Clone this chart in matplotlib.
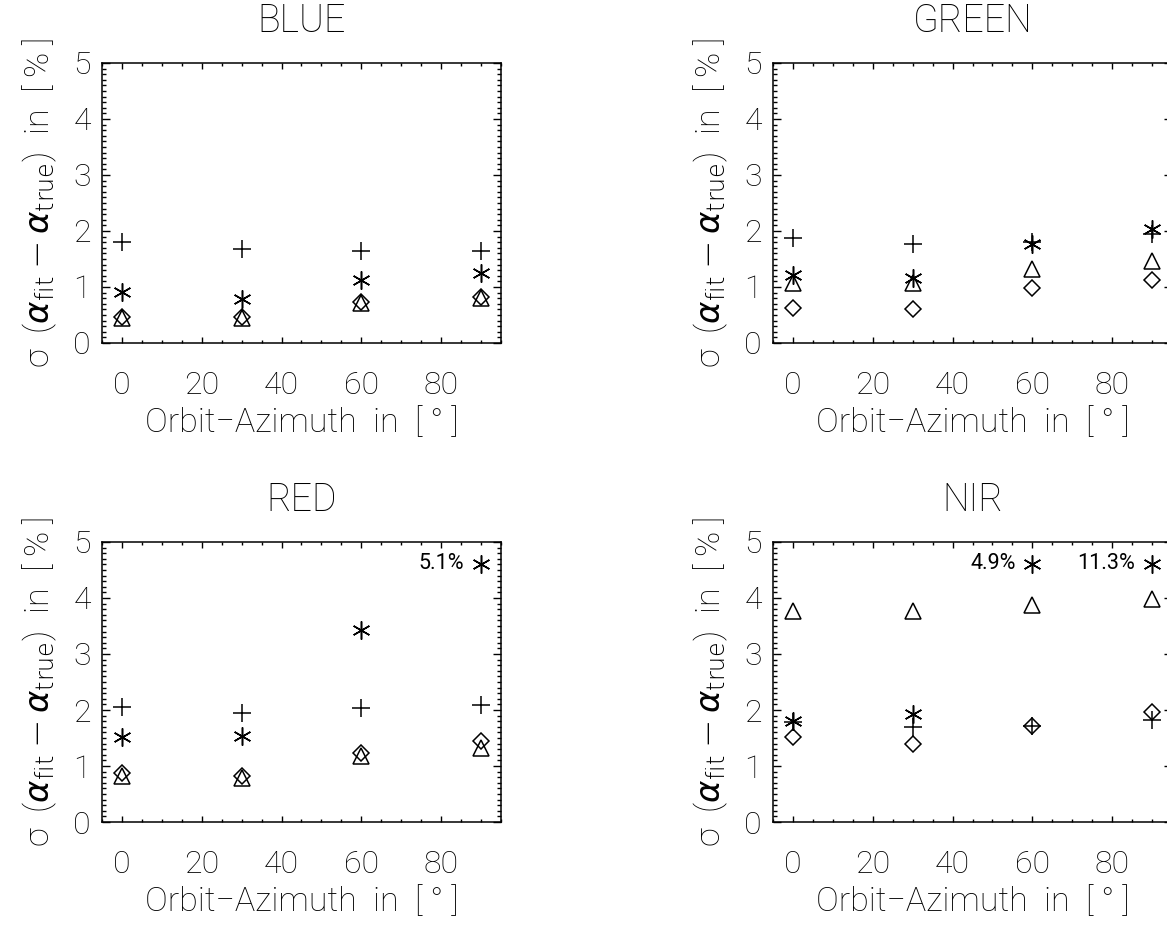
import matplotlib
matplotlib.use("Agg")
import matplotlib.pyplot as plt
from matplotlib.ticker import MultipleLocator

# orbit azimuth in degrees
azimuth = [0, 30, 60, 90]

# sigma(alpha_fit - alpha_true) in %, one list per marker type
blue_plus = [1.80, 1.68, 1.64, 1.65]
blue_star = [0.91, 0.79, 1.12, 1.25]
blue_tri = [0.44, 0.44, 0.72, 0.80]
blue_dia = [0.46, 0.47, 0.74, 0.82]

green_plus = [1.88, 1.77, 1.80, 1.95]
green_star = [1.22, 1.16, 1.76, 2.04]
green_tri = [1.08, 1.07, 1.33, 1.47]
green_dia = [0.63, 0.61, 0.99, 1.13]

red_plus = [2.06, 1.94, 2.03, 2.09]
red_star = [1.51, 1.54, 3.43, 5.1]
red_tri = [0.83, 0.79, 1.17, 1.33]
red_dia = [0.88, 0.82, 1.23, 1.45]

nir_plus = [1.79, 1.69, 1.71, 1.83]
nir_star = [1.80, 1.93, 4.9, 11.3]
nir_tri = [3.76, 3.77, 3.88, 3.98]
nir_dia = [1.51, 1.40, 1.71, 1.97]

panels = ["BLUE", "GREEN", "RED", "NIR"]
panel_data = {
    "BLUE": (blue_plus, blue_star, blue_tri, blue_dia),
    "GREEN": (green_plus, green_star, green_tri, green_dia),
    "RED": (red_plus, red_star, red_tri, red_dia),
    "NIR": (nir_plus, nir_star, nir_tri, nir_dia),
}

YMAX = 5.0
OFFSCALE_LIMIT = 4.6   # values above this are written as text
OFFSCALE_Y = 4.61

plt.rcParams["font.family"] = ["Roboto", "DejaVu Sans"]
plt.rcParams["font.weight"] = "light"
plt.rcParams["axes.titleweight"] = "light"
plt.rcParams["axes.labelweight"] = "light"
plt.rcParams["mathtext.fontset"] = "dejavusans"

fig = plt.figure(figsize=(11.67, 9.26), dpi=100)

# axes boxes in figure fraction (right column runs past the figure edge)
boxes = {
    "BLUE": [0.0874, 0.6296, 0.3419, 0.3024],
    "GREEN": [0.6624, 0.6296, 0.3419, 0.3024],
    "RED": [0.0874, 0.1123, 0.3419, 0.3024],
    "NIR": [0.6624, 0.1123, 0.3419, 0.3024],
}

star = (6, 2, 0)
mk = dict(linestyle="none", color="black", markerfacecolor="none", markeredgewidth=1.1)

for name in panels:
    plus, ast, tri, dia = panel_data[name]
    ax = fig.add_axes(boxes[name])

    ax.plot(azimuth, plus, marker="+", markersize=12.5, **mk)
    ax.plot(azimuth, tri, marker="^", markersize=11.5, **mk)
    ax.plot(azimuth, dia, marker="D", markersize=8.5, **mk)

    for x, v in zip(azimuth, ast):
        if v <= OFFSCALE_LIMIT:
            ax.plot(x, v, marker=star, markersize=13, **mk)
        else:
            ax.plot(x, OFFSCALE_Y, marker=star, markersize=13, **mk)
            ax.annotate("%.1f%%" % v, xy=(x, OFFSCALE_Y), xytext=(-12, 0),
                        textcoords="offset points", ha="right", va="center",
                        fontsize=15.5, fontweight="normal")

    ax.set_xlim(-5, 95)
    ax.set_ylim(0, YMAX)
    ax.xaxis.set_major_locator(MultipleLocator(20))
    ax.xaxis.set_minor_locator(MultipleLocator(5))
    ax.yaxis.set_major_locator(MultipleLocator(1))
    ax.yaxis.set_minor_locator(MultipleLocator(0.1))
    ax.tick_params(which="both", direction="in", top=True, right=True, width=1.0)
    ax.tick_params(axis="x", which="major", length=4.2, pad=20, labelsize=23)
    ax.tick_params(axis="x", which="minor", length=2.1)
    ax.tick_params(axis="y", which="major", length=5.8, pad=8, labelsize=23)
    ax.tick_params(axis="y", which="minor", length=2.9)
    for s in ax.spines.values():
        s.set_linewidth(1.1)

    ax.set_title(name, fontsize=27, pad=22)
    ax.set_xlabel("Orbit\u2212Azimuth  in  [ \u00b0 ]", fontsize=24.5, labelpad=5)
    ax.set_ylabel("\u03c3  ($\\alpha_{\\mathrm{fit}} - \\alpha_{\\mathrm{true}}$)  in  [ % ]",
                  fontsize=24.5, labelpad=10)

fig.savefig("out.png", dpi=100)
